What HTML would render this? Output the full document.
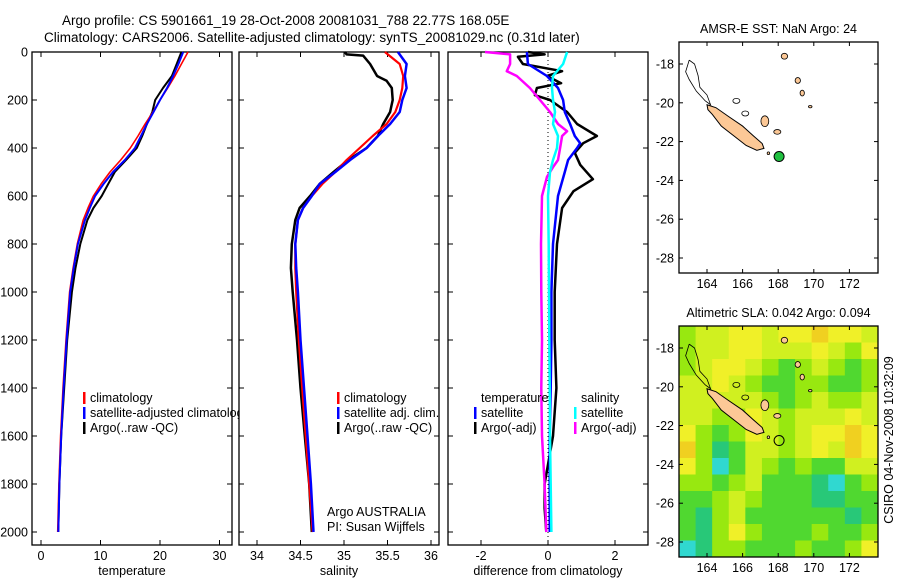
<!DOCTYPE html>
<html><head><meta charset="utf-8"><style>
html,body{margin:0;padding:0;background:#fff;}
svg{display:block;font-family:"Liberation Sans",Arial,sans-serif;}
</style></head><body>
<svg id="fig" width="900" height="580" viewBox="0 0 900 580" xmlns="http://www.w3.org/2000/svg">
<text x="62" y="25" font-size="13.5">Argo profile: CS 5901661_19 28-Oct-2008 20081031_788 22.77S 168.05E</text>
<text x="44" y="42" font-size="13.5">Climatology: CARS2006. Satellite-adjusted climatology: synTS_20081029.nc (0.31d later)</text>
<defs><clipPath id="c1"><rect x="0" y="0" width="239" height="580"/></clipPath></defs>
<g id="plots"></g>
<text transform="translate(893,440) rotate(-90)" text-anchor="middle" font-size="12.5">CSIRO 04-Nov-2008 10:32:09</text>
</svg>
<script>
// ---- data ----
const depths = [0,50,100,150,200,250,300,350,400,450,500,550,600,650,700,800,900,1000,1200,1400,1600,1800,2000];
const tempClim = [24.7,23.6,22.5,21.3,20,18.8,17.5,16.3,15,13.4,11.6,10.1,8.8,7.9,7.1,6.1,5.4,4.8,4.2,3.7,3.3,3.0,2.8];
const tempSat = [23.9,23.1,22.2,21.2,20,18.9,17.8,16.8,15.8,14.1,12.1,10.5,9.1,8.2,7.4,6.2,5.5,4.9,4.3,3.8,3.4,3.1,2.9];
const tempArgo = [23.6,22.8,22,20.5,19.2,18.7,17.8,17.0,16.1,14.3,12.4,11.3,10.2,8.8,7.8,6.6,5.8,5.2,4.4,3.9,3.4,3.1,2.9];
const salClim = [35.47,35.64,35.68,35.67,35.64,35.59,35.49,35.33,35.18,35.03,34.9,34.75,34.63,34.53,34.47,34.44,34.44,34.45,34.48,34.52,34.56,34.6,34.64];
const salSat = [35.62,35.72,35.7,35.72,35.67,35.64,35.53,35.39,35.26,35.07,34.9,34.72,34.63,34.53,34.47,34.44,34.45,34.47,34.5,34.54,34.58,34.62,34.65];
const argoDepths = [0,10,15,50,100,120,150,200,250,300,350,400,450,500,550,600,650,700,800,900,1000,1200,1400,1600,1800,2000];
const salArgo = [35.01,35.03,35.22,35.3,35.38,35.49,35.55,35.56,35.53,35.45,35.39,35.26,35.05,34.88,34.72,34.61,34.49,34.44,34.4,34.39,34.41,34.46,34.5,34.55,34.6,34.63];
const tempArgoAligned = [23.6,23.5,23.4,22.8,22,21.6,20.5,19.2,18.7,17.8,17.0,16.1,14.3,12.4,11.3,10.2,8.8,7.8,6.6,5.8,5.2,4.4,3.9,3.4,3.1,2.9];

const satDiffDepths = [0,50,100,150,200,250,300,350,380,400,450,500,600,800,1000,1200,1400,1600,1800,2000];
const salSatDiff = [0.57,0.45,0.15,0.12,0.15,0.21,0.15,0.3,0.28,0.27,0.15,0.06,0.0,0.02,0.03,0.04,0.05,0.06,0.08,0.1];
const tempSatDiff = [-0.63,-0.6,-0.03,0.3,0.45,0.5,0.66,0.8,0.96,0.87,0.6,0.5,0.3,0.15,0.1,0.1,0.08,0.05,0.05,0.05];
const tempArgoDiffDepths = [0,10,20,50,80,100,130,150,180,200,250,300,350,380,420,470,530,580,650,800,1000,1200,1400,1600,1800,1900,2000];
const tempArgoDiff = [-0.6,-0.1,-0.9,-0.75,0.42,-0.03,0.39,-0.33,-0.39,0.06,0.57,0.87,1.46,1.05,0.8,0.96,1.34,0.76,0.42,0.27,0.2,0.2,0.25,0.15,-0.1,-0.1,-0.05];
const salArgoDiffDepths = [0,10,50,80,100,150,200,250,300,330,350,400,450,480,520,600,800,1000,1200,1400,1600,1800,2000];
const salArgoDiff = [-1.88,-1.13,-1.13,-1.23,-0.93,-0.54,-0.24,0.06,0.3,0.57,0.42,0.36,0.3,0.15,-0.03,-0.18,-0.21,-0.2,-0.18,-0.2,-0.18,-0.1,-0.05];

const depthTicks = [0,200,400,600,800,1000,1200,1400,1600,1800,2000];
const tempTicks = [0,10,20,30];
const salTicks = ["34","34.5","35","35.5","36"];
const diffTicks = [-2,0,2];
const lonTicks = [164,166,168,170,172];
const latTicks = [-18,-20,-22,-24,-26,-28];

// SLA field (levels 0..6), rows north->south
const slaGrid = [
[3,4,4,5,5,4,5,5,6,5,5,4],
[3,4,4,5,5,4,4,4,5,4,3,5],
[3,4,5,5,4,3,2,3,4,3,2,3],
[4,4,5,4,3,2,2,3,3,2,2,3],
[4,4,4,4,4,3,2,3,4,3,3,4],
[4,4,3,3,5,4,3,4,4,4,5,4],
[5,3,2,3,5,4,3,4,5,5,6,5],
[6,3,1,2,4,4,3,4,5,4,6,5],
[5,3,0,2,4,3,2,3,2,2,4,4],
[3,3,2,3,4,2,2,2,1,0,2,3],
[2,2,3,4,3,2,2,2,1,1,2,2],
[2,1,3,4,2,2,2,2,2,2,1,2],
[2,1,3,5,3,2,2,2,3,2,2,3],
[0,1,3,3,2,2,2,3,2,2,3,5]];
const slaColors = ["#30d8d0","#28c878","#50d830","#98e810","#d0f020","#f0f028","#f0d020"];

const floatLon = 168.05, floatLat = -22.77;

// ---- helpers ----
const NS = "http://www.w3.org/2000/svg";
const root = document.getElementById('plots');
function mk(tag, attrs, parent){const e=document.createElementNS(NS,tag);for(const k in attrs)e.setAttribute(k,attrs[k]);(parent||root).appendChild(e);return e;}
const Y0 = 52, PXD = 0.24, TOP=52, BOT=545;
const yD = d => Y0 + d*PXD;

const panels = [
 {name:'temperature-panel', x0:32, x1:232, xs:v=>41+v*5.95, ticks:tempTicks, label:'temperature'},
 {name:'salinity-panel', x0:239, x1:439, xs:v=>257+(v-34)*87, ticks:salTicks, label:'salinity'},
 {name:'difference-panel', x0:448, x1:648, xs:v=>548+v*33.5, ticks:diffTicks, label:'difference from climatology'}
];

panels.forEach((p,i)=>{
  const g = mk('g',{});
  
  
  const r = mk('rect',{x:p.x0,y:TOP,width:p.x1-p.x0,height:BOT-TOP,fill:'none',stroke:'#000','stroke-width':1.3},g);
  
  
  depthTicks.forEach(d=>{
    const y=yD(d);
    mk('line',{x1:p.x0,x2:p.x0+5,y1:y,y2:y,stroke:'#000'},g);
    mk('line',{x1:p.x1-5,x2:p.x1,y1:y,y2:y,stroke:'#000'},g);
    if(i===0){const t=mk('text',{x:28,y:y+4.5,'text-anchor':'end','font-size':12.5},g);t.textContent=d;
      
      }
  });
  p.ticks.forEach(v=>{
    const x=p.xs(parseFloat(v));
    mk('line',{x1:x,x2:x,y1:TOP,y2:TOP+5,stroke:'#000'},g);
    mk('line',{x1:x,x2:x,y1:BOT-5,y2:BOT,stroke:'#000'},g);
    const t=mk('text',{x:x,y:560,'text-anchor':'middle','font-size':12.5},g);t.textContent=v;
    
    
  });
  const lb=mk('text',{x:(p.x0+p.x1)/2,y:575,'text-anchor':'middle','font-size':12.5},g);lb.textContent=p.label;
  
  
});

function series(panel, ds, vs, color, w, name){
  const pts = ds.map((d,k)=>panel.xs(vs[k]).toFixed(1)+','+yD(d).toFixed(1)).join(' ');
  const l = mk('polyline',{points:pts,fill:'none',stroke:color,'stroke-width':w,'stroke-linejoin':'round'});
  
  
}
const [P1,P2,P3]=panels;
series(P1,depths,tempArgo,'#000',2,'temp-argo-line');
series(P1,depths,tempClim,'#f00',1.6,'temp-climatology-line');
series(P1,depths,tempSat,'#00f',2,'temp-satellite-line');
series(P2,argoDepths,salArgo,'#000',2.5,'sal-argo-line');
series(P2,depths,salClim,'#f00',2.2,'sal-climatology-line');
series(P2,depths,salSat,'#00f',2.5,'sal-satellite-line');
// zero dotted line
const zl=mk('line',{x1:P3.xs(0),x2:P3.xs(0),y1:TOP,y2:BOT,stroke:'#000','stroke-dasharray':'1 3'});


series(P3,tempArgoDiffDepths,tempArgoDiff,'#000',2.5,'temp-argo-diff-line');
series(P3,salArgoDiffDepths,salArgoDiff,'#f0f',2.5,'sal-argo-diff-line');
series(P3,satDiffDepths,tempSatDiff,'#00f',2.5,'temp-satellite-diff-line');
series(P3,satDiffDepths,salSatDiff,'#0ff',2.5,'sal-satellite-diff-line');

// legends
function legend(items, mx, tx, y0, clip, nm){
  const g=mk('g',clip?{'clip-path':'url(#c1)'}:{});
  
  
  items.forEach((it,k)=>{
    const y=y0+k*15;
    if(it[1]) mk('rect',{x:mx,y:y-10,width:2.5,height:12,fill:it[1]},g);
    const t=mk('text',{x:tx,y:y,'font-size':12.5},g);t.textContent=it[0];
    
    
  });
}
legend([['climatology','#f00'],['satellite-adjusted climatology','#00f'],['Argo(..raw -QC)','#000']],83,90,402,true,'temp-legend');
legend([['climatology','#f00'],['satellite adj. clim.','#00f'],['Argo(..raw -QC)','#000']],337,344,402,false,'sal-legend');
legend([['temperature',null],['satellite','#00f'],['Argo(-adj)','#000']],474,481,402,false,'diff-temp-legend');
legend([['salinity',null],['satellite','#0ff'],['Argo(-adj)','#f0f']],574,581,402,false,'diff-sal-legend');
const ag=mk('text',{x:327,y:516,'font-size':12.5});ag.textContent='Argo AUSTRALIA';


const pi=mk('text',{x:327,y:531,'font-size':12.5});pi.textContent='PI: Susan Wijffels';



// ---- maps ----
const MX0=679, MX1=878;
const lonX = lon => 707 + (lon-164)*17.8;
function drawMap(off, title, sla, nm){
  const latY = lat => 64 + off + (-18-lat)*19.4;
  const top=42+off, bot=273+off;
  const g=mk('g',{});
  
  
  if(sla){
    const rows=slaGrid.length, cols=slaGrid[0].length;
    const cw=(MX1-MX0)/cols, ch=(bot-top)/rows;
    slaGrid.forEach((row,r)=>row.forEach((v,c)=>{
      const cell=mk('rect',{x:MX0+c*cw,y:top+r*ch,width:cw+0.5,height:ch+0.5,fill:slaColors[v]},g);
      
      
    }));
  }
  // reef outline north
  const reef=[[163.0,-17.8],[163.3,-18.0],[163.5,-18.6],[163.6,-19.2],[164.0,-19.6],[164.2,-20.1],[163.9,-19.9],[163.4,-19.4],[163.0,-18.8],[162.8,-18.4],[163.0,-17.8]];
  mk('polyline',{points:reef.map(p=>lonX(p[0])+','+latY(p[1])).join(' '),fill:'none',stroke:'#000','stroke-width':0.8},g);
  const main=[[164.0,-20.1],[164.5,-20.25],[165.2,-20.7],[166.0,-21.2],[166.6,-21.7],[167.1,-22.1],[167.2,-22.35],[166.8,-22.45],[166.2,-22.2],[165.5,-21.7],[164.8,-21.2],[164.3,-20.6],[164.05,-20.35]];
  const mi=mk('polygon',{points:main.map(p=>lonX(p[0])+','+latY(p[1])).join(' '),fill:'#fcc896',stroke:'#000','stroke-width':1},g);
  
  
  const isl=[[167.25,-20.95,0.22,0.28],[167.95,-21.5,0.2,0.12],[168.35,-17.6,0.18,0.15],[169.1,-18.85,0.15,0.15],[169.35,-19.5,0.12,0.15],[169.8,-20.2,0.1,0.06],[167.45,-22.6,0.07,0.07]];
  isl.forEach(s=>{mk('ellipse',{cx:lonX(s[0]),cy:latY(s[1]),rx:s[2]*17.8,ry:s[3]*19.4,fill:'#fcc896',stroke:'#000','stroke-width':0.8},g);});
  mk('ellipse',{cx:lonX(165.65),cy:latY(-19.9),rx:3.5,ry:2.5,fill:'none',stroke:'#000','stroke-width':0.8},g);
  mk('ellipse',{cx:lonX(166.15),cy:latY(-20.55),rx:3.5,ry:2.5,fill:'none',stroke:'#000','stroke-width':0.8},g);
  const mark=mk('circle',{cx:lonX(floatLon),cy:latY(floatLat),r:5,fill:sla?'none':'#20c040',stroke:'#000','stroke-width':1},g);
  
  
  mk('rect',{x:MX0,y:top,width:MX1-MX0,height:bot-top,fill:'none',stroke:'#000','stroke-width':1.3},g);
  lonTicks.forEach(lon=>{const x=lonX(lon);
    mk('line',{x1:x,x2:x,y1:top,y2:top+4,stroke:'#000'},g);mk('line',{x1:x,x2:x,y1:bot-4,y2:bot,stroke:'#000'},g);
    const t=mk('text',{x:x,y:bot+15,'text-anchor':'middle','font-size':12.5},g);t.textContent=lon;
    
    });
  latTicks.forEach(lat=>{const y=latY(lat);
    mk('line',{x1:MX0,x2:MX0+4,y1:y,y2:y,stroke:'#000'},g);mk('line',{x1:MX1-4,x2:MX1,y1:y,y2:y,stroke:'#000'},g);
    const t=mk('text',{x:674,y:y+4.5,'text-anchor':'end','font-size':12.5},g);t.textContent=lat;
    
    });
  const tt=mk('text',{x:(MX0+MX1)/2,y:top-9,'text-anchor':'middle','font-size':12.5},g);tt.textContent=title;
  
  
}
drawMap(0,'AMSR-E SST: NaN Argo: 24',false,'sst-map');
drawMap(284,'Altimetric SLA: 0.042 Argo: 0.094',true,'sla-map');
</script>
</body></html>
